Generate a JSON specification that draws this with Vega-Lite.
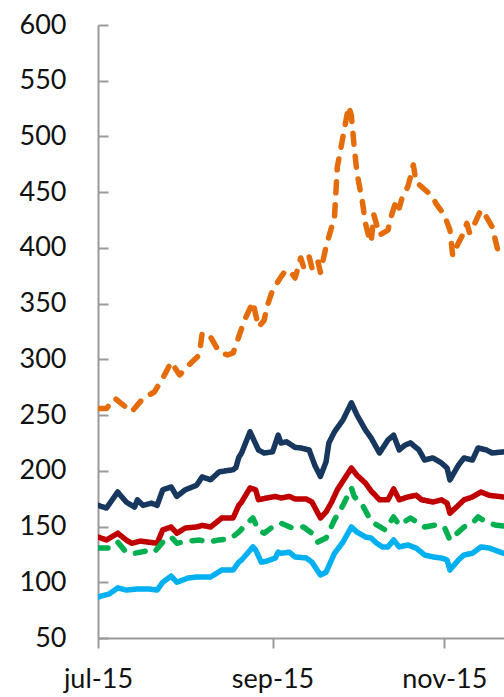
{
  "$schema": "https://vega.github.io/schema/vega-lite/v6.json",
  "autosize": "none",
  "width": 406,
  "height": 613,
  "padding": {"left": 98, "top": 25, "right": 0, "bottom": 59},
  "background": "white",
  "config": {"view": {"stroke": null}, "font": "Lato"},
  "datasets": {
    "rows": [
      {"s": "navy", "d": "2015-07-01T00:00", "v": 169},
      {"s": "navy", "d": "2015-07-04T00:00", "v": 166.6},
      {"s": "navy", "d": "2015-07-08T00:00", "v": 181},
      {"s": "navy", "d": "2015-07-11T00:00", "v": 172},
      {"s": "navy", "d": "2015-07-14T00:00", "v": 167.5},
      {"s": "navy", "d": "2015-07-15T00:00", "v": 174},
      {"s": "navy", "d": "2015-07-17T00:00", "v": 169},
      {"s": "navy", "d": "2015-07-20T00:00", "v": 171},
      {"s": "navy", "d": "2015-07-22T00:00", "v": 169},
      {"s": "navy", "d": "2015-07-24T00:00", "v": 183},
      {"s": "navy", "d": "2015-07-27T00:00", "v": 185.5},
      {"s": "navy", "d": "2015-07-29T00:00", "v": 177},
      {"s": "navy", "d": "2015-08-01T00:00", "v": 183},
      {"s": "navy", "d": "2015-08-05T00:00", "v": 187},
      {"s": "navy", "d": "2015-08-07T00:00", "v": 194.5},
      {"s": "navy", "d": "2015-08-10T00:00", "v": 192},
      {"s": "navy", "d": "2015-08-13T00:00", "v": 199},
      {"s": "navy", "d": "2015-08-18T00:00", "v": 201},
      {"s": "navy", "d": "2015-08-19T00:00", "v": 203},
      {"s": "navy", "d": "2015-08-20T00:00", "v": 212},
      {"s": "navy", "d": "2015-08-21T00:00", "v": 216},
      {"s": "navy", "d": "2015-08-24T00:00", "v": 235},
      {"s": "navy", "d": "2015-08-27T00:00", "v": 218.7},
      {"s": "navy", "d": "2015-08-29T00:00", "v": 216},
      {"s": "navy", "d": "2015-09-01T00:00", "v": 217},
      {"s": "navy", "d": "2015-09-03T00:00", "v": 232},
      {"s": "navy", "d": "2015-09-04T00:00", "v": 225},
      {"s": "navy", "d": "2015-09-06T00:00", "v": 226},
      {"s": "navy", "d": "2015-09-09T00:00", "v": 221},
      {"s": "navy", "d": "2015-09-11T00:00", "v": 220.5},
      {"s": "navy", "d": "2015-09-14T00:00", "v": 218.7},
      {"s": "navy", "d": "2015-09-16T00:00", "v": 205},
      {"s": "navy", "d": "2015-09-18T00:00", "v": 195},
      {"s": "navy", "d": "2015-09-20T00:00", "v": 208},
      {"s": "navy", "d": "2015-09-21T00:00", "v": 225},
      {"s": "navy", "d": "2015-09-23T00:00", "v": 235},
      {"s": "navy", "d": "2015-09-26T00:00", "v": 245.6},
      {"s": "navy", "d": "2015-09-29T00:00", "v": 261},
      {"s": "navy", "d": "2015-10-01T00:00", "v": 250},
      {"s": "navy", "d": "2015-10-04T00:00", "v": 236.6},
      {"s": "navy", "d": "2015-10-06T00:00", "v": 229.5},
      {"s": "navy", "d": "2015-10-09T00:00", "v": 216},
      {"s": "navy", "d": "2015-10-12T00:00", "v": 227.7},
      {"s": "navy", "d": "2015-10-14T00:00", "v": 232},
      {"s": "navy", "d": "2015-10-16T00:00", "v": 218.7},
      {"s": "navy", "d": "2015-10-18T00:00", "v": 223},
      {"s": "navy", "d": "2015-10-20T00:00", "v": 225},
      {"s": "navy", "d": "2015-10-23T00:00", "v": 218.7},
      {"s": "navy", "d": "2015-10-25T00:00", "v": 209.7},
      {"s": "navy", "d": "2015-10-28T00:00", "v": 211.5},
      {"s": "navy", "d": "2015-10-31T00:00", "v": 207},
      {"s": "navy", "d": "2015-11-02T00:00", "v": 202.5},
      {"s": "navy", "d": "2015-11-03T00:00", "v": 191.8},
      {"s": "navy", "d": "2015-11-06T00:00", "v": 205},
      {"s": "navy", "d": "2015-11-08T00:00", "v": 211.5},
      {"s": "navy", "d": "2015-11-11T00:00", "v": 209.7},
      {"s": "navy", "d": "2015-11-13T00:00", "v": 220.5},
      {"s": "navy", "d": "2015-11-16T00:00", "v": 218.7},
      {"s": "navy", "d": "2015-11-18T00:00", "v": 216},
      {"s": "navy", "d": "2015-11-22T00:00", "v": 217},
      {"s": "navy", "d": "2015-11-25T00:00", "v": 217},

      {"s": "red", "d": "2015-07-01T00:00", "v": 140.6},
      {"s": "red", "d": "2015-07-04T00:00", "v": 138},
      {"s": "red", "d": "2015-07-08T00:00", "v": 144},
      {"s": "red", "d": "2015-07-11T00:00", "v": 138},
      {"s": "red", "d": "2015-07-13T00:00", "v": 135},
      {"s": "red", "d": "2015-07-16T00:00", "v": 137},
      {"s": "red", "d": "2015-07-19T00:00", "v": 136},
      {"s": "red", "d": "2015-07-22T00:00", "v": 135},
      {"s": "red", "d": "2015-07-24T00:00", "v": 147},
      {"s": "red", "d": "2015-07-27T00:00", "v": 149.6},
      {"s": "red", "d": "2015-07-29T00:00", "v": 144},
      {"s": "red", "d": "2015-08-01T00:00", "v": 148.7},
      {"s": "red", "d": "2015-08-05T00:00", "v": 149.6},
      {"s": "red", "d": "2015-08-07T00:00", "v": 151},
      {"s": "red", "d": "2015-08-10T00:00", "v": 149.6},
      {"s": "red", "d": "2015-08-14T00:00", "v": 157.7},
      {"s": "red", "d": "2015-08-18T00:00", "v": 157.7},
      {"s": "red", "d": "2015-08-20T00:00", "v": 169},
      {"s": "red", "d": "2015-08-21T00:00", "v": 172},
      {"s": "red", "d": "2015-08-24T00:00", "v": 184.6},
      {"s": "red", "d": "2015-08-26T00:00", "v": 183},
      {"s": "red", "d": "2015-08-27T00:00", "v": 174},
      {"s": "red", "d": "2015-08-30T00:00", "v": 175.6},
      {"s": "red", "d": "2015-09-02T00:00", "v": 177},
      {"s": "red", "d": "2015-09-04T00:00", "v": 175.6},
      {"s": "red", "d": "2015-09-07T00:00", "v": 177},
      {"s": "red", "d": "2015-09-09T00:00", "v": 174.7},
      {"s": "red", "d": "2015-09-13T00:00", "v": 174.7},
      {"s": "red", "d": "2015-09-15T00:00", "v": 172},
      {"s": "red", "d": "2015-09-18T00:00", "v": 157.7},
      {"s": "red", "d": "2015-09-20T00:00", "v": 163},
      {"s": "red", "d": "2015-09-22T00:00", "v": 172},
      {"s": "red", "d": "2015-09-24T00:00", "v": 183},
      {"s": "red", "d": "2015-09-29T00:00", "v": 202.5},
      {"s": "red", "d": "2015-10-01T00:00", "v": 196},
      {"s": "red", "d": "2015-10-04T00:00", "v": 189},
      {"s": "red", "d": "2015-10-06T00:00", "v": 182},
      {"s": "red", "d": "2015-10-09T00:00", "v": 174},
      {"s": "red", "d": "2015-10-12T00:00", "v": 174},
      {"s": "red", "d": "2015-10-14T00:00", "v": 183.7},
      {"s": "red", "d": "2015-10-16T00:00", "v": 174},
      {"s": "red", "d": "2015-10-19T00:00", "v": 176.5},
      {"s": "red", "d": "2015-10-22T00:00", "v": 178},
      {"s": "red", "d": "2015-10-24T00:00", "v": 174},
      {"s": "red", "d": "2015-10-28T00:00", "v": 172},
      {"s": "red", "d": "2015-10-31T00:00", "v": 174},
      {"s": "red", "d": "2015-11-02T00:00", "v": 171},
      {"s": "red", "d": "2015-11-03T00:00", "v": 162},
      {"s": "red", "d": "2015-11-06T00:00", "v": 169},
      {"s": "red", "d": "2015-11-08T00:00", "v": 174},
      {"s": "red", "d": "2015-11-11T00:00", "v": 176.5},
      {"s": "red", "d": "2015-11-14T00:00", "v": 181},
      {"s": "red", "d": "2015-11-17T00:00", "v": 178},
      {"s": "red", "d": "2015-11-22T00:00", "v": 176.5},
      {"s": "red", "d": "2015-11-25T00:00", "v": 176.5},

      {"s": "green", "d": "2015-07-01T00:00", "v": 130.7},
      {"s": "green", "d": "2015-07-05T00:00", "v": 130.7},
      {"s": "green", "d": "2015-07-08T00:00", "v": 136},
      {"s": "green", "d": "2015-07-11T00:00", "v": 127},
      {"s": "green", "d": "2015-07-14T00:00", "v": 126},
      {"s": "green", "d": "2015-07-18T00:00", "v": 128},
      {"s": "green", "d": "2015-07-21T00:00", "v": 127},
      {"s": "green", "d": "2015-07-24T00:00", "v": 136},
      {"s": "green", "d": "2015-07-27T00:00", "v": 140.6},
      {"s": "green", "d": "2015-07-29T00:00", "v": 135},
      {"s": "green", "d": "2015-08-02T00:00", "v": 137},
      {"s": "green", "d": "2015-08-06T00:00", "v": 138},
      {"s": "green", "d": "2015-08-09T00:00", "v": 136},
      {"s": "green", "d": "2015-08-13T00:00", "v": 138},
      {"s": "green", "d": "2015-08-17T00:00", "v": 139},
      {"s": "green", "d": "2015-08-20T00:00", "v": 145},
      {"s": "green", "d": "2015-08-23T00:00", "v": 153},
      {"s": "green", "d": "2015-08-25T00:00", "v": 157.7},
      {"s": "green", "d": "2015-08-27T00:00", "v": 147},
      {"s": "green", "d": "2015-08-29T00:00", "v": 144},
      {"s": "green", "d": "2015-09-01T00:00", "v": 149.6},
      {"s": "green", "d": "2015-09-04T00:00", "v": 153},
      {"s": "green", "d": "2015-09-08T00:00", "v": 148.7},
      {"s": "green", "d": "2015-09-12T00:00", "v": 149.6},
      {"s": "green", "d": "2015-09-15T00:00", "v": 144},
      {"s": "green", "d": "2015-09-17T00:00", "v": 136},
      {"s": "green", "d": "2015-09-20T00:00", "v": 139.7},
      {"s": "green", "d": "2015-09-23T00:00", "v": 156},
      {"s": "green", "d": "2015-09-26T00:00", "v": 169},
      {"s": "green", "d": "2015-09-29T00:00", "v": 184.6},
      {"s": "green", "d": "2015-09-30T00:00", "v": 177},
      {"s": "green", "d": "2015-10-03T00:00", "v": 169},
      {"s": "green", "d": "2015-10-05T00:00", "v": 159.5},
      {"s": "green", "d": "2015-10-07T00:00", "v": 153},
      {"s": "green", "d": "2015-10-11T00:00", "v": 147},
      {"s": "green", "d": "2015-10-14T00:00", "v": 158.6},
      {"s": "green", "d": "2015-10-16T00:00", "v": 151.4},
      {"s": "green", "d": "2015-10-20T00:00", "v": 157.7},
      {"s": "green", "d": "2015-10-25T00:00", "v": 149.6},
      {"s": "green", "d": "2015-10-29T00:00", "v": 151.4},
      {"s": "green", "d": "2015-11-01T00:00", "v": 149.6},
      {"s": "green", "d": "2015-11-03T00:00", "v": 138},
      {"s": "green", "d": "2015-11-06T00:00", "v": 145},
      {"s": "green", "d": "2015-11-08T00:00", "v": 149.6},
      {"s": "green", "d": "2015-11-11T00:00", "v": 153},
      {"s": "green", "d": "2015-11-13T00:00", "v": 158.6},
      {"s": "green", "d": "2015-11-16T00:00", "v": 154},
      {"s": "green", "d": "2015-11-19T00:00", "v": 151.4},
      {"s": "green", "d": "2015-11-22T00:00", "v": 150.5},
      {"s": "green", "d": "2015-11-25T00:00", "v": 150},

      {"s": "blue", "d": "2015-07-01T00:00", "v": 86.8},
      {"s": "blue", "d": "2015-07-05T00:00", "v": 89.5},
      {"s": "blue", "d": "2015-07-08T00:00", "v": 94.9},
      {"s": "blue", "d": "2015-07-11T00:00", "v": 93},
      {"s": "blue", "d": "2015-07-15T00:00", "v": 94},
      {"s": "blue", "d": "2015-07-19T00:00", "v": 94},
      {"s": "blue", "d": "2015-07-22T00:00", "v": 93},
      {"s": "blue", "d": "2015-07-24T00:00", "v": 100},
      {"s": "blue", "d": "2015-07-27T00:00", "v": 105.6},
      {"s": "blue", "d": "2015-07-29T00:00", "v": 100},
      {"s": "blue", "d": "2015-08-02T00:00", "v": 103.8},
      {"s": "blue", "d": "2015-08-05T00:00", "v": 104.7},
      {"s": "blue", "d": "2015-08-08T00:00", "v": 104.7},
      {"s": "blue", "d": "2015-08-10T00:00", "v": 104.7},
      {"s": "blue", "d": "2015-08-14T00:00", "v": 111},
      {"s": "blue", "d": "2015-08-18T00:00", "v": 111},
      {"s": "blue", "d": "2015-08-20T00:00", "v": 118},
      {"s": "blue", "d": "2015-08-21T00:00", "v": 120},
      {"s": "blue", "d": "2015-08-25T00:00", "v": 131.7},
      {"s": "blue", "d": "2015-08-26T00:00", "v": 129},
      {"s": "blue", "d": "2015-08-28T00:00", "v": 118},
      {"s": "blue", "d": "2015-08-30T00:00", "v": 119},
      {"s": "blue", "d": "2015-09-02T00:00", "v": 121.8},
      {"s": "blue", "d": "2015-09-03T00:00", "v": 127},
      {"s": "blue", "d": "2015-09-04T00:00", "v": 126},
      {"s": "blue", "d": "2015-09-07T00:00", "v": 127},
      {"s": "blue", "d": "2015-09-09T00:00", "v": 122.7},
      {"s": "blue", "d": "2015-09-13T00:00", "v": 121.8},
      {"s": "blue", "d": "2015-09-15T00:00", "v": 118},
      {"s": "blue", "d": "2015-09-18T00:00", "v": 106.5},
      {"s": "blue", "d": "2015-09-20T00:00", "v": 109},
      {"s": "blue", "d": "2015-09-23T00:00", "v": 126},
      {"s": "blue", "d": "2015-09-26T00:00", "v": 136},
      {"s": "blue", "d": "2015-09-29T00:00", "v": 149.6},
      {"s": "blue", "d": "2015-10-01T00:00", "v": 145},
      {"s": "blue", "d": "2015-10-04T00:00", "v": 140.6},
      {"s": "blue", "d": "2015-10-06T00:00", "v": 139.7},
      {"s": "blue", "d": "2015-10-08T00:00", "v": 135},
      {"s": "blue", "d": "2015-10-10T00:00", "v": 131.7},
      {"s": "blue", "d": "2015-10-12T00:00", "v": 131.7},
      {"s": "blue", "d": "2015-10-14T00:00", "v": 138},
      {"s": "blue", "d": "2015-10-16T00:00", "v": 131.7},
      {"s": "blue", "d": "2015-10-19T00:00", "v": 133.5},
      {"s": "blue", "d": "2015-10-22T00:00", "v": 130.7},
      {"s": "blue", "d": "2015-10-25T00:00", "v": 124.5},
      {"s": "blue", "d": "2015-10-28T00:00", "v": 122.7},
      {"s": "blue", "d": "2015-10-31T00:00", "v": 121.8},
      {"s": "blue", "d": "2015-11-02T00:00", "v": 120},
      {"s": "blue", "d": "2015-11-03T00:00", "v": 111},
      {"s": "blue", "d": "2015-11-06T00:00", "v": 120},
      {"s": "blue", "d": "2015-11-08T00:00", "v": 124.5},
      {"s": "blue", "d": "2015-11-11T00:00", "v": 126},
      {"s": "blue", "d": "2015-11-14T00:00", "v": 131.7},
      {"s": "blue", "d": "2015-11-17T00:00", "v": 130.7},
      {"s": "blue", "d": "2015-11-22T00:00", "v": 126},
      {"s": "blue", "d": "2015-11-25T00:00", "v": 126},

      {"s": "orange", "d": "2015-07-01T00:00", "v": 256},
      {"s": "orange", "d": "2015-07-04T00:00", "v": 256},
      {"s": "orange", "d": "2015-07-07T00:00", "v": 265},
      {"s": "orange", "d": "2015-07-10T00:00", "v": 259},
      {"s": "orange", "d": "2015-07-13T00:00", "v": 253},
      {"s": "orange", "d": "2015-07-17T00:00", "v": 265},
      {"s": "orange", "d": "2015-07-21T00:00", "v": 270.7},
      {"s": "orange", "d": "2015-07-24T00:00", "v": 283},
      {"s": "orange", "d": "2015-07-27T00:00", "v": 297.6},
      {"s": "orange", "d": "2015-07-30T00:00", "v": 286},
      {"s": "orange", "d": "2015-08-03T00:00", "v": 296.7},
      {"s": "orange", "d": "2015-08-06T00:00", "v": 304},
      {"s": "orange", "d": "2015-08-07T00:00", "v": 323.7},
      {"s": "orange", "d": "2015-08-10T00:00", "v": 320},
      {"s": "orange", "d": "2015-08-13T00:00", "v": 306.6},
      {"s": "orange", "d": "2015-08-16T00:00", "v": 304},
      {"s": "orange", "d": "2015-08-18T00:00", "v": 305.7},
      {"s": "orange", "d": "2015-08-19T00:00", "v": 313},
      {"s": "orange", "d": "2015-08-22T00:00", "v": 335},
      {"s": "orange", "d": "2015-08-25T00:00", "v": 351.5},
      {"s": "orange", "d": "2015-08-27T00:00", "v": 329},
      {"s": "orange", "d": "2015-08-29T00:00", "v": 335},
      {"s": "orange", "d": "2015-08-30T00:00", "v": 347},
      {"s": "orange", "d": "2015-09-01T00:00", "v": 362},
      {"s": "orange", "d": "2015-09-04T00:00", "v": 374},
      {"s": "orange", "d": "2015-09-05T00:00", "v": 377.5},
      {"s": "orange", "d": "2015-09-07T00:00", "v": 380},
      {"s": "orange", "d": "2015-09-09T00:00", "v": 373},
      {"s": "orange", "d": "2015-09-11T00:00", "v": 391},
      {"s": "orange", "d": "2015-09-12T00:00", "v": 383},
      {"s": "orange", "d": "2015-09-14T00:00", "v": 392},
      {"s": "orange", "d": "2015-09-15T00:00", "v": 382},
      {"s": "orange", "d": "2015-09-17T00:00", "v": 389},
      {"s": "orange", "d": "2015-09-18T00:00", "v": 378},
      {"s": "orange", "d": "2015-09-20T00:00", "v": 401},
      {"s": "orange", "d": "2015-09-21T00:00", "v": 410},
      {"s": "orange", "d": "2015-09-23T00:00", "v": 427.7},
      {"s": "orange", "d": "2015-09-24T00:00", "v": 472.6},
      {"s": "orange", "d": "2015-09-26T00:00", "v": 499.5},
      {"s": "orange", "d": "2015-09-28T00:00", "v": 527},
      {"s": "orange", "d": "2015-09-29T00:00", "v": 519},
      {"s": "orange", "d": "2015-09-30T00:00", "v": 490.5},
      {"s": "orange", "d": "2015-10-01T00:00", "v": 467},
      {"s": "orange", "d": "2015-10-03T00:00", "v": 440},
      {"s": "orange", "d": "2015-10-04T00:00", "v": 422},
      {"s": "orange", "d": "2015-10-05T00:00", "v": 412},
      {"s": "orange", "d": "2015-10-06T00:00", "v": 405},
      {"s": "orange", "d": "2015-10-07T00:00", "v": 429.6},
      {"s": "orange", "d": "2015-10-09T00:00", "v": 411.6},
      {"s": "orange", "d": "2015-10-12T00:00", "v": 416},
      {"s": "orange", "d": "2015-10-13T00:00", "v": 427},
      {"s": "orange", "d": "2015-10-15T00:00", "v": 443},
      {"s": "orange", "d": "2015-10-16T00:00", "v": 435.8},
      {"s": "orange", "d": "2015-10-17T00:00", "v": 444.8},
      {"s": "orange", "d": "2015-10-19T00:00", "v": 454.7},
      {"s": "orange", "d": "2015-10-20T00:00", "v": 463.6},
      {"s": "orange", "d": "2015-10-21T00:00", "v": 474.4},
      {"s": "orange", "d": "2015-10-22T00:00", "v": 459},
      {"s": "orange", "d": "2015-10-24T00:00", "v": 454.7},
      {"s": "orange", "d": "2015-10-28T00:00", "v": 445.7},
      {"s": "orange", "d": "2015-10-29T00:00", "v": 440},
      {"s": "orange", "d": "2015-11-01T00:00", "v": 429.6},
      {"s": "orange", "d": "2015-11-03T00:00", "v": 416},
      {"s": "orange", "d": "2015-11-04T00:00", "v": 393},
      {"s": "orange", "d": "2015-11-06T00:00", "v": 404.4},
      {"s": "orange", "d": "2015-11-08T00:00", "v": 414},
      {"s": "orange", "d": "2015-11-09T00:00", "v": 422},
      {"s": "orange", "d": "2015-11-10T00:00", "v": 413.4},
      {"s": "orange", "d": "2015-11-12T00:00", "v": 423},
      {"s": "orange", "d": "2015-11-14T00:00", "v": 434},
      {"s": "orange", "d": "2015-11-16T00:00", "v": 427.7},
      {"s": "orange", "d": "2015-11-18T00:00", "v": 418.8},
      {"s": "orange", "d": "2015-11-20T00:00", "v": 398},
      {"s": "orange", "d": "2015-11-22T00:00", "v": 399},
      {"s": "orange", "d": "2015-11-25T00:00", "v": 402}
    ]
  },
  "data": {"name": "rows"},
  "mark": {"type": "line", "strokeWidth": 5.5, "strokeCap": "round", "strokeJoin": "round", "clip": true},
  "encoding": {
    "x": {
      "field": "d", "type": "temporal",
      "scale": {"domain": ["2015-07-01T00:00", "2015-11-22T05:00"]},
      "axis": {
        "title": null,
        "values": ["2015-07-01T00:00", "2015-09-01T00:00", "2015-11-01T00:00"],
        "labelExpr": "lower(timeFormat(datum.value, '%b-%y'))",
        "grid": false,
        "domainColor": "#9a9a9a", "domainWidth": 2,
        "tickColor": "#9a9a9a", "tickWidth": 2, "tickSize": 10,
        "labelFontSize": 27, "labelColor": "#111111", "labelPadding": 18,
        "labelFont": "Lato", "labelFlush": false, "labelOverlap": false
      }
    },
    "y": {
      "field": "v", "type": "quantitative",
      "scale": {"domain": [50, 600], "nice": false, "zero": false},
      "axis": {
        "title": null,
        "values": [50, 100, 150, 200, 250, 300, 350, 400, 450, 500, 550, 600],
        "grid": false,
        "domainColor": "#9a9a9a", "domainWidth": 2,
        "tickColor": "#9a9a9a", "tickWidth": 2, "tickSize": -10,
        "labelFontSize": 27, "labelColor": "#111111", "labelPadding": 42,
        "labelFont": "Lato", "labelOverlap": false
      }
    },
    "color": {
      "field": "s", "type": "nominal", "legend": null,
      "scale": {"domain": ["navy", "red", "green", "blue", "orange"],
                "range": ["#17375E", "#C00000", "#00B050", "#00B0F0", "#E46C0A"]}
    },
    "strokeDash": {
      "field": "s", "type": "nominal", "legend": null,
      "scale": {"domain": ["navy", "red", "green", "blue", "orange"],
                "range": [[1, 0], [1, 0], [10, 12], [1, 0], [11, 12]]}
    }
  }
}
